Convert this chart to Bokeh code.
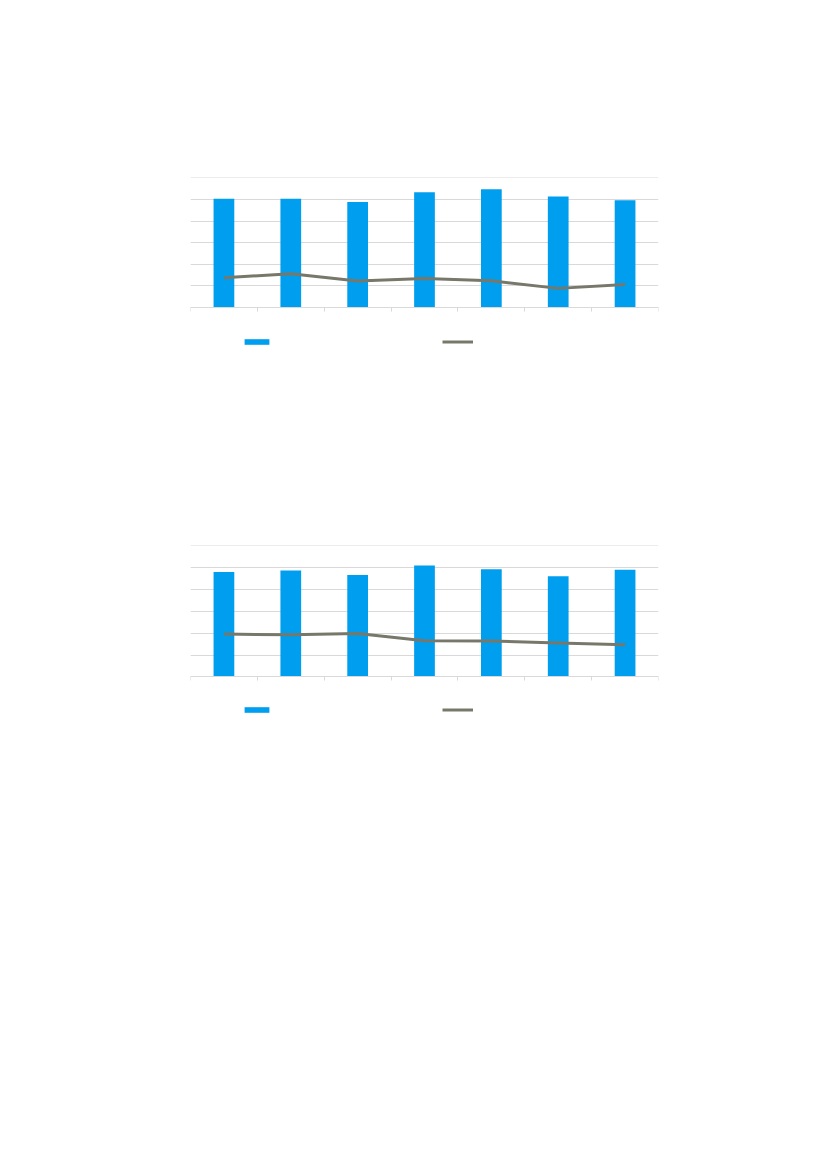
from bokeh.plotting import figure
from bokeh.layouts import column
from bokeh.models import ColumnDataSource, FixedTicker, Legend, LegendItem, Range1d
from bokeh.embed import file_html
from bokeh.resources import INLINE

# ---- data ----
categories = [1, 2, 3, 4, 5, 6, 7]
chart1_bars = [5.03, 5.04, 4.89, 5.34, 5.48, 5.14, 4.97]
chart1_line = [1.37, 1.56, 1.22, 1.34, 1.23, 0.88, 1.06]
chart2_bars = [4.81, 4.87, 4.67, 5.10, 4.93, 4.61, 4.91]
chart2_line = [1.96, 1.93, 1.99, 1.65, 1.64, 1.55, 1.47]
y_ticks = [0, 1, 2, 3, 4, 5, 6]

BAR_COLOR = "#009EEF"
LINE_COLOR = "#77786A"
GRID_COLOR = "#D9D9D9"


def make_chart(bars, line, top_border, frame_h, bottom_border, legend_loc):
    xs = [c - 0.5 for c in categories]
    src = ColumnDataSource(dict(x=xs, bar=bars, line=line))
    p = figure(output_backend="svg", toolbar_location=None,
               frame_width=468, frame_height=frame_h,
               min_border_left=190, min_border_right=161,
               min_border_top=top_border, min_border_bottom=bottom_border,
               x_range=Range1d(0, len(categories)),
               y_range=Range1d(-2.0, 6.02))
    p.outline_line_color = None
    p.background_fill_color = "white"
    p.border_fill_color = "white"

    vb = p.vbar(x="x", top="bar", width=0.31, bottom=0, source=src,
                fill_color=BAR_COLOR, line_color=None)
    ln = p.line(x="x", y="line", source=src, line_color=LINE_COLOR,
                line_width=3, line_join="round")

    p.xgrid.visible = False
    p.ygrid.ticker = FixedTicker(ticks=y_ticks)
    p.ygrid.grid_line_color = GRID_COLOR
    p.ygrid.grid_line_width = 1
    p.yaxis.visible = False

    xa = p.xaxis[0]
    xa.fixed_location = 0
    xa.ticker = FixedTicker(ticks=list(range(0, len(categories) + 1)))
    xa.major_label_overrides = {i: "" for i in range(0, len(categories) + 1)}
    xa.axis_line_color = GRID_COLOR
    xa.major_tick_line_color = GRID_COLOR
    xa.major_tick_out = 4
    xa.major_tick_in = 0
    xa.minor_tick_line_color = None

    legend = Legend(items=[LegendItem(label=" ", renderers=[vb]),
                           LegendItem(label=" ", renderers=[ln])],
                    orientation="horizontal",
                    location=legend_loc,
                    glyph_width=31, glyph_height=7,
                    label_width=170, label_height=7, label_standoff=0,
                    label_text_font_size="6px",
                    spacing=0, padding=0, margin=0,
                    border_line_color=None, background_fill_alpha=0)
    p.add_layout(legend)
    return p


p1 = make_chart(chart1_bars, chart1_line, 177, 173, 30, (51, 5.5))
p2 = make_chart(chart2_bars, chart2_line, 165, 175, 60, (51, 7.5))

layout = column(p1, p2, spacing=0)
open("out.html", "w").write(file_html(layout, INLINE))
